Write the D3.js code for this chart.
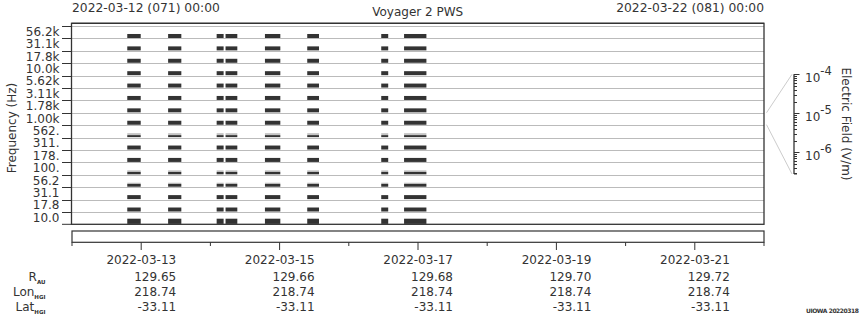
<!DOCTYPE html>
<html lang="en">
<head>
    <meta charset="UTF-8"/>
    <title>Voyager 2 PWS</title>
    <script src="https://d3js.org/d3.v7.min.js" charset="utf-8"></script>
    <style type="text/css">
        body { margin: 0; background: #fff; }
        text { font-family: "DejaVu Sans", sans-serif; font-size: 12px; fill: #333; }
        .grid { stroke: #bbb; stroke-width: 1px; }
        .frame { fill: none; stroke: #333; stroke-width: 1.3px; }
        .hdr { font-size: 12.3px; }
    </style>
</head>
<body>
<svg width="860" height="320"></svg>
<script type="text/javascript">
    // frequency channels, top to bottom
    var freqLabels = ["56.2k", "31.1k", "17.8k", "10.0k", "5.62k", "3.11k", "1.78k", "1.00k",
        "562.", "311.", "178.", "100.", "56.2", "31.1", "17.8", "10.0"];
    // relative signal level per channel (1 = full dark trace)
    var chanLevel = [1, 1, 1, 1, 1, 1, 1, 1, 0.5, 1, 1, 0.6, 0.7, 1, 1, 1.3];

    // data segments (UTC)
    var segStart = ["2022-03-12T19:10", "2022-03-13T09:20", "2022-03-14T02:10", "2022-03-14T05:15",
        "2022-03-14T18:55", "2022-03-15T09:35", "2022-03-16T11:15", "2022-03-16T19:10"];
    var segEnd = ["2022-03-12T23:50", "2022-03-13T13:55", "2022-03-14T04:35", "2022-03-14T09:20",
        "2022-03-15T00:15", "2022-03-15T13:40", "2022-03-16T13:40", "2022-03-17T02:55"];

    // ephemeris table
    var tickDates = ["2022-03-13", "2022-03-15", "2022-03-17", "2022-03-19", "2022-03-21"];
    var rAU = ["129.65", "129.66", "129.68", "129.70", "129.72"];
    var lonHGI = ["218.74", "218.74", "218.74", "218.74", "218.74"];
    var latHGI = ["-33.11", "-33.11", "-33.11", "-33.11", "-33.11"];

    var fieldDomain = [2.8e-7, 1e-4];

    (function() {
    var svg = d3.select("svg");
    var parse = d3.utcParse("%Y-%m-%dT%H:%M");
    var parseDay = d3.utcParse("%Y-%m-%d");

    var pLeft = 71.5, pRight = 764, pTop = 26, pBottom = 224.3;

    var x = d3.scaleUtc()
        .domain([parseDay("2022-03-12"), parseDay("2022-03-22")])
        .range([72, pRight]);

    var y = d3.scaleBand()
        .domain(freqLabels)
        .range([pTop, pBottom])
        .paddingInner(0);

    // header
    svg.append("text").attr("class", "hdr").attr("x", 72).attr("y", 12).text("2022-03-12 (071) 00:00");
    svg.append("text").attr("class", "hdr").attr("x", pRight).attr("y", 12).style("text-anchor", "end").text("2022-03-22 (081) 00:00");
    svg.append("text").attr("x", (pLeft + pRight) / 2).attr("y", 16).style("text-anchor", "middle").text("Voyager 2 PWS");

    // grid lines at channel boundaries
    svg.selectAll(".grid").data(freqLabels).enter().append("line")
        .attr("class", "grid")
        .attr("x1", pLeft).attr("x2", pRight)
        .attr("y1", function(d) { return Math.round(y(d)) + 0.5; })
        .attr("y2", function(d) { return Math.round(y(d)) + 0.5; });

    // left ticks and labels
    svg.selectAll(".ytick").data(freqLabels.concat(["_end"])).enter().append("line")
        .attr("class", "ytick")
        .attr("x1", 62).attr("x2", pLeft)
        .attr("y1", function(d) { return d === "_end" ? pBottom : Math.round(y(d)) + 0.5; })
        .attr("y2", function(d) { return d === "_end" ? pBottom : Math.round(y(d)) + 0.5; })
        .attr("stroke", "#333");
    svg.selectAll(".ylab").data(freqLabels).enter().append("text")
        .attr("class", "ylab")
        .attr("x", 59.5)
        .attr("y", function(d) { return y(d) + y.bandwidth() / 2 - 0.5; })
        .attr("dy", "0.35em")
        .style("text-anchor", "end")
        .text(function(d) { return d; });

    svg.append("text")
        .attr("transform", "translate(16,128) rotate(-90)")
        .style("text-anchor", "middle")
        .text("Frequency (Hz)");

    // spectrogram traces
    var segs = segStart.map(function(s, i) { return {t0: parse(s), t1: parse(segEnd[i])}; });
    var h = d3.scaleLinear().domain([0, 1]).range([0, 4]);
    var g = svg.append("g");
    freqLabels.forEach(function(f, i) {
        var lvl = chanLevel[i];
        var yb = y(f) + y.bandwidth() - 0.4;
        segs.forEach(function(s) {
            var x0 = x(s.t0), w = x(s.t1) - x(s.t0);
            if (lvl < 1) {
                g.append("rect")
                    .attr("x", x0).attr("width", w)
                    .attr("y", yb - h(1)).attr("height", h(1) - h(lvl))
                    .attr("fill", "#c4c4c4");
            }
            g.append("rect")
                .attr("x", x0).attr("width", w)
                .attr("y", yb - h(lvl)).attr("height", h(lvl))
                .attr("fill", "#333");
        });
    });

    // frame
    svg.append("line").attr("x1", pLeft).attr("x2", pRight).attr("y1", 23.3).attr("y2", 23.3)
        .attr("stroke", "#333").attr("stroke-width", 1.3);
    svg.append("rect").attr("class", "frame")
        .attr("x", pLeft).attr("y", 23.3).attr("width", pRight - pLeft).attr("height", pBottom - 23.3);

    // colorbar axis
    var cb = d3.scaleLog().domain(fieldDomain).range([174, 74.3]);
    var cbx = 794;
    var yb7 = y(freqLabels[7]);
    svg.append("line").attr("x1", 766.5).attr("y1", yb7).attr("x2", 792).attr("y2", cb(1e-4))
        .attr("stroke", "#ccc");
    svg.append("line").attr("x1", 766.5).attr("y1", yb7 + y.bandwidth() - 0.5).attr("x2", 792).attr("y2", cb(fieldDomain[0]))
        .attr("stroke", "#ccc");
    svg.append("line").attr("x1", cbx).attr("x2", cbx).attr("y1", cb(1e-4)).attr("y2", 174)
        .attr("stroke", "#333").attr("stroke-width", 1.3);
    var cbTicks = cb.ticks();
    var isMajor = function(d) { return Math.abs(Math.log10(d) - Math.round(Math.log10(d))) < 1e-6; };
    svg.selectAll(".cbtick").data(cbTicks).enter().append("line")
        .attr("x1", cbx)
        .attr("x2", function(d) { return isMajor(d) ? cbx + 5.5 : cbx + 3; })
        .attr("y1", function(d) { return Math.round(cb(d)) + 0.5; })
        .attr("y2", function(d) { return Math.round(cb(d)) + 0.5; })
        .attr("stroke", "#333");
    svg.append("line").attr("x1", cbx).attr("x2", cbx + 3).attr("y1", 174).attr("y2", 174).attr("stroke", "#333");
    var majors = cbTicks.filter(isMajor);
    var lab = svg.selectAll(".cblab").data(majors).enter().append("text")
        .attr("x", cbx + 11)
        .attr("y", function(d) { return cb(d) + 7.5; });
    lab.append("tspan").text("10");
    lab.append("tspan").attr("dy", -7).style("font-size", "11.5px")
        .text(function(d) { return "-" + Math.round(-Math.log10(d)); });

    svg.append("text")
        .attr("transform", "translate(842,124) rotate(90)")
        .style("text-anchor", "middle")
        .text("Electric Field (V/m)");

    // lower strip with time axis
    svg.append("rect").attr("x", 72).attr("y", 231).attr("width", pRight - 72).attr("height", 11.3)
        .attr("fill", "none").attr("stroke", "#333").attr("stroke-width", 1.2);
    var days = x.ticks(d3.utcDay.every(1));
    svg.selectAll(".xtick").data(days).enter().append("line")
        .attr("x1", function(d) { return x(d); })
        .attr("x2", function(d) { return x(d); })
        .attr("y1", 242.3)
        .attr("y2", function(d) { return d3.utcDay.count(x.domain()[0], d) % 2 === 1 ? 250 : 246; })
        .attr("stroke", "#333");

    var rows = [tickDates, rAU, lonHGI, latHGI];
    var rowY = [260, 276.5, 291.8, 306.5];
    rows.forEach(function(arr, r) {
        svg.selectAll(".row" + r).data(arr).enter().append("text")
            .attr("x", function(d, i) { return x(parseDay(tickDates[i])) + 35; })
            .attr("y", rowY[r])
            .attr("dy", "0.35em")
            .style("text-anchor", "end")
            .text(function(d) { return d; });
    });

    var rowNames = [["R", "AU"], ["Lon", "HGI"], ["Lat", "HGI"]];
    rowNames.forEach(function(n, i) {
        var t = svg.append("text")
            .attr("x", 45.5)
            .attr("y", rowY[i + 1])
            .attr("dy", "0.35em")
            .style("text-anchor", "end");
        t.append("tspan").text(n[0]);
        t.append("tspan").attr("dy", 3).style("font-size", "5.5px").style("font-weight", "bold").text(n[1]);
    });

    svg.append("text")
        .attr("x", 806).attr("y", 313)
        .attr("textLength", 53)
        .style("font-size", "6px")
        .style("font-weight", "bold")
        .text("UIOWA 20220318");
    })();
</script>
</body>
</html>
